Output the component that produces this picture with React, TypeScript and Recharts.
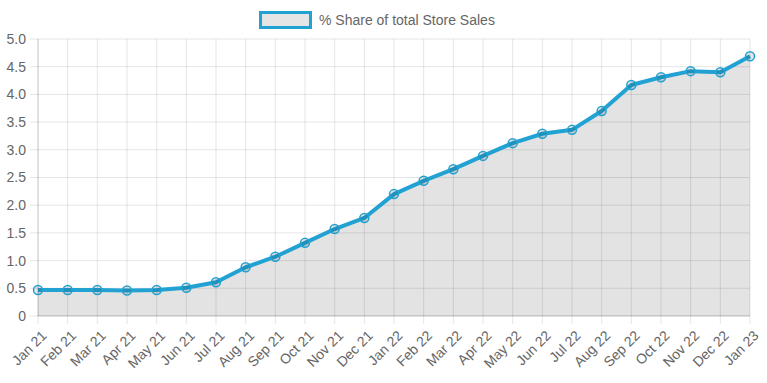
import { Area, ComposedChart, CartesianGrid, XAxis, YAxis } from "recharts";

const months: string[] = [
	"Jan 21", "Feb 21", "Mar 21", "Apr 21", "May 21", "Jun 21", "Jul 21", "Aug 21", "Sep 21",
	"Oct 21", "Nov 21", "Dec 21", "Jan 22", "Feb 22", "Mar 22", "Apr 22", "May 22", "Jun 22",
	"Jul 22", "Aug 22", "Sep 22", "Oct 22", "Nov 22", "Dec 22", "Jan 23",
];

const shareValues: number[] = [
	0.47, 0.47, 0.47, 0.46, 0.47, 0.51, 0.61, 0.88, 1.07, 1.32, 1.57, 1.77, 2.2, 2.44, 2.65,
	2.89, 3.12, 3.29, 3.36, 3.7, 4.17, 4.31, 4.42, 4.4, 4.69,
];

const yTicks: number[] = [0, 0.5, 1, 1.5, 2, 2.5, 3, 3.5, 4, 4.5, 5];

const seriesName = "% Share of total Store Sales";

const data = months.map((month, i) => ({ month, share: shareValues[i] }));

const BLUE = "#22a2d2";
const FONT = "'Liberation Sans', Arial, Helvetica, sans-serif";

function MonthTick(props: any) {
	const { x, y, payload } = props;
	return (
		<g transform={`translate(${x + 6},${y + 7})`}>
			<text
				x={0}
				y={0}
				dy="0.35em"
				textAnchor="end"
				transform="rotate(-45)"
				fill="#666"
				fontSize={14}
				fontFamily={FONT}
			>
				{payload.value}
			</text>
		</g>
	);
}

export default function App() {
	return (
		<div style={{ position: "absolute", left: 0, top: 0, width: 767, height: 383, fontFamily: FONT }}>
			<div
				style={{
					position: "absolute",
					left: 259,
					top: 11,
					display: "flex",
					alignItems: "center",
					color: "#666",
					fontSize: 14,
				}}
			>
				<div
					style={{
						width: 47,
						height: 12,
						border: `3px solid ${BLUE}`,
						background: "#e5e5e5",
						marginRight: 7,
					}}
				/>
				<span>{seriesName}</span>
			</div>
			<ComposedChart
				width={767}
				height={383}
				data={data}
				margin={{ top: 39, right: 17, bottom: 0, left: 0 }}
			>
				<CartesianGrid stroke="rgba(0,0,0,0.1)" />
				<XAxis
					dataKey="month"
					interval={0}
					tick={<MonthTick />}
					tickSize={8}
					tickLine={{ stroke: "rgba(0,0,0,0.1)" }}
					axisLine={{ stroke: "rgba(0,0,0,0.15)" }}
					height={67}
				/>
				<YAxis
					domain={[0, 5]}
					ticks={yTicks}
					width={38}
					tickSize={8}
					tickMargin={4}
					tickLine={{ stroke: "rgba(0,0,0,0.1)" }}
					axisLine={{ stroke: "rgba(0,0,0,0.15)" }}
					tick={{ fill: "#666", fontSize: 14, fontFamily: FONT }}
					tickFormatter={(v: number) => (v === 0 ? "0" : v.toFixed(1))}
				/>
				<Area
					type="linear"
					dataKey="share"
					name={seriesName}
					stroke={BLUE}
					strokeWidth={4}
					strokeLinejoin="round"
					fill="rgba(0,0,0,0.11)"
					fillOpacity={1}
					dot={{ r: 4.5, stroke: BLUE, strokeWidth: 1.5, fill: "rgba(0,0,0,0.1)" }}
					activeDot={false}
					isAnimationActive={false}
				/>
			</ComposedChart>
		</div>
	);
}
